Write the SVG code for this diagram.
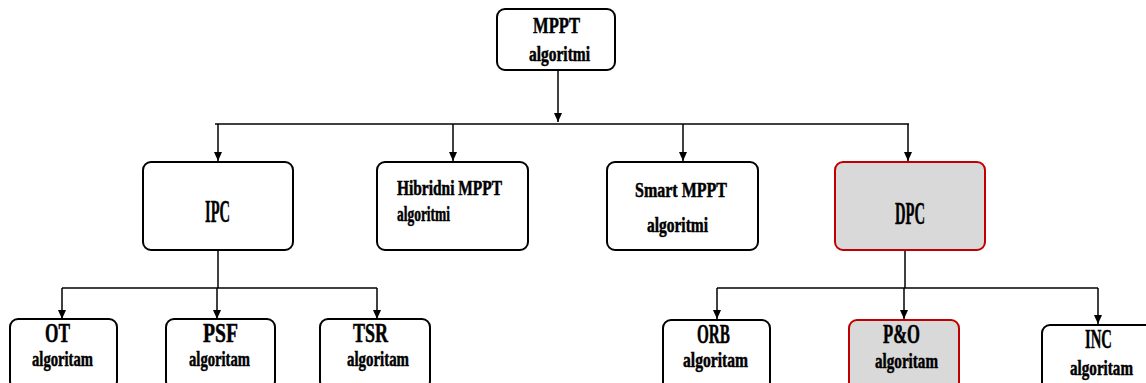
<svg xmlns="http://www.w3.org/2000/svg" width="1146" height="383" viewBox="0 0 1146 383">
<style>
.box{fill:#ffffff;stroke:#000000;stroke-width:2}
.hl{fill:#d9d9d9;stroke:#c00000;stroke-width:2}
.t{font-family:"Liberation Serif",serif;font-weight:bold;fill:#000000;stroke:#000000;stroke-width:0.5}
.c{stroke:#000000;stroke-width:1.5;fill:none}
.a{stroke:#000000;stroke-width:1.5;fill:none;marker-end:url(#ah)}
</style>
<defs>
<marker id="ah" markerWidth="10" markerHeight="10" refX="9" refY="5" orient="auto" markerUnits="userSpaceOnUse">
<path d="M0,1 L9,5 L0,9 Z" fill="#000000"/>
</marker>
</defs>
<rect width="1146" height="383" fill="#ffffff"/>
<g id="connectors">
<path class="a" d="M558,71 V122"/>
<path class="c" d="M215,124 H909"/>
<path class="a" d="M218,124 V161"/>
<path class="a" d="M453,124 V161"/>
<path class="a" d="M683,124 V161"/>
<path class="a" d="M908,124 V161"/>
<path class="c" d="M218,250 V288"/>
<path class="c" d="M62,288 H377"/>
<path class="a" d="M62,288 V319"/>
<path class="a" d="M217,288 V319"/>
<path class="a" d="M377,288 V319"/>
<path class="c" d="M905,250 V288"/>
<path class="c" d="M717,288 H1098"/>
<path class="a" d="M717,288 V319"/>
<path class="a" d="M904,288 V319"/>
<path class="a" d="M1098,288 V324"/>
</g>
<g id="mppt">
<rect class="box" x="497" y="9" width="118" height="61" rx="8"/>
<text class="t" x="533" y="33" font-size="24" textLength="47" lengthAdjust="spacingAndGlyphs">MPPT</text>
<text class="t" x="529" y="61" font-size="20" textLength="61" lengthAdjust="spacingAndGlyphs">algoritmi</text>
</g>
<g id="ipc">
<rect class="box" x="143" y="162" width="150" height="88" rx="8"/>
<text class="t" x="205" y="222" font-size="31" textLength="25" lengthAdjust="spacingAndGlyphs">IPC</text>
</g>
<g id="hibridni">
<rect class="box" x="377" y="162" width="151" height="88" rx="8"/>
<text class="t" x="397" y="195" font-size="20" textLength="105" lengthAdjust="spacingAndGlyphs">Hibridni MPPT</text>
<text class="t" x="397" y="221" font-size="20" textLength="53" lengthAdjust="spacingAndGlyphs">algoritmi</text>
</g>
<g id="smart">
<rect class="box" x="607" y="162" width="151" height="88" rx="8"/>
<text class="t" x="635" y="197" font-size="21" textLength="92" lengthAdjust="spacingAndGlyphs">Smart MPPT</text>
<text class="t" x="647" y="232" font-size="20" textLength="61" lengthAdjust="spacingAndGlyphs">algoritmi</text>
</g>
<g id="dpc">
<rect class="hl" x="835" y="162" width="150" height="88" rx="8"/>
<text class="t" x="895" y="224" font-size="31" textLength="30" lengthAdjust="spacingAndGlyphs">DPC</text>
</g>
<g id="ot">
<rect class="box" x="10" y="319" width="107" height="70" rx="8"/>
<text class="t" x="45" y="342" font-size="27" textLength="25" lengthAdjust="spacingAndGlyphs">OT</text>
<text class="t" x="32" y="366" font-size="21" textLength="61" lengthAdjust="spacingAndGlyphs">algoritam</text>
</g>
<g id="psf">
<rect class="box" x="166" y="319" width="109" height="70" rx="8"/>
<text class="t" x="203" y="342" font-size="27" textLength="35" lengthAdjust="spacingAndGlyphs">PSF</text>
<text class="t" x="189" y="366" font-size="21" textLength="61" lengthAdjust="spacingAndGlyphs">algoritam</text>
</g>
<g id="tsr">
<rect class="box" x="320" y="319" width="110" height="70" rx="8"/>
<text class="t" x="353" y="342" font-size="27" textLength="35" lengthAdjust="spacingAndGlyphs">TSR</text>
<text class="t" x="347" y="366" font-size="21" textLength="62" lengthAdjust="spacingAndGlyphs">algoritam</text>
</g>
<g id="orb">
<rect class="box" x="663" y="320" width="107" height="70" rx="8"/>
<text class="t" x="697" y="343" font-size="27" textLength="33" lengthAdjust="spacingAndGlyphs">ORB</text>
<text class="t" x="683" y="367" font-size="21" textLength="65" lengthAdjust="spacingAndGlyphs">algoritam</text>
</g>
<g id="po">
<rect class="hl" x="849" y="320" width="110" height="70" rx="8"/>
<text class="t" x="883" y="343" font-size="27" textLength="37" lengthAdjust="spacingAndGlyphs">P&amp;O</text>
<text class="t" x="875" y="368" font-size="21" textLength="63" lengthAdjust="spacingAndGlyphs">algoritam</text>
</g>
<g id="inc">
<rect class="box" x="1042" y="325" width="115" height="70" rx="8"/>
<text class="t" x="1085" y="348" font-size="27" textLength="27" lengthAdjust="spacingAndGlyphs">INC</text>
<text class="t" x="1070" y="375" font-size="21" textLength="63" lengthAdjust="spacingAndGlyphs">algoritam</text>
</g>
</svg>
